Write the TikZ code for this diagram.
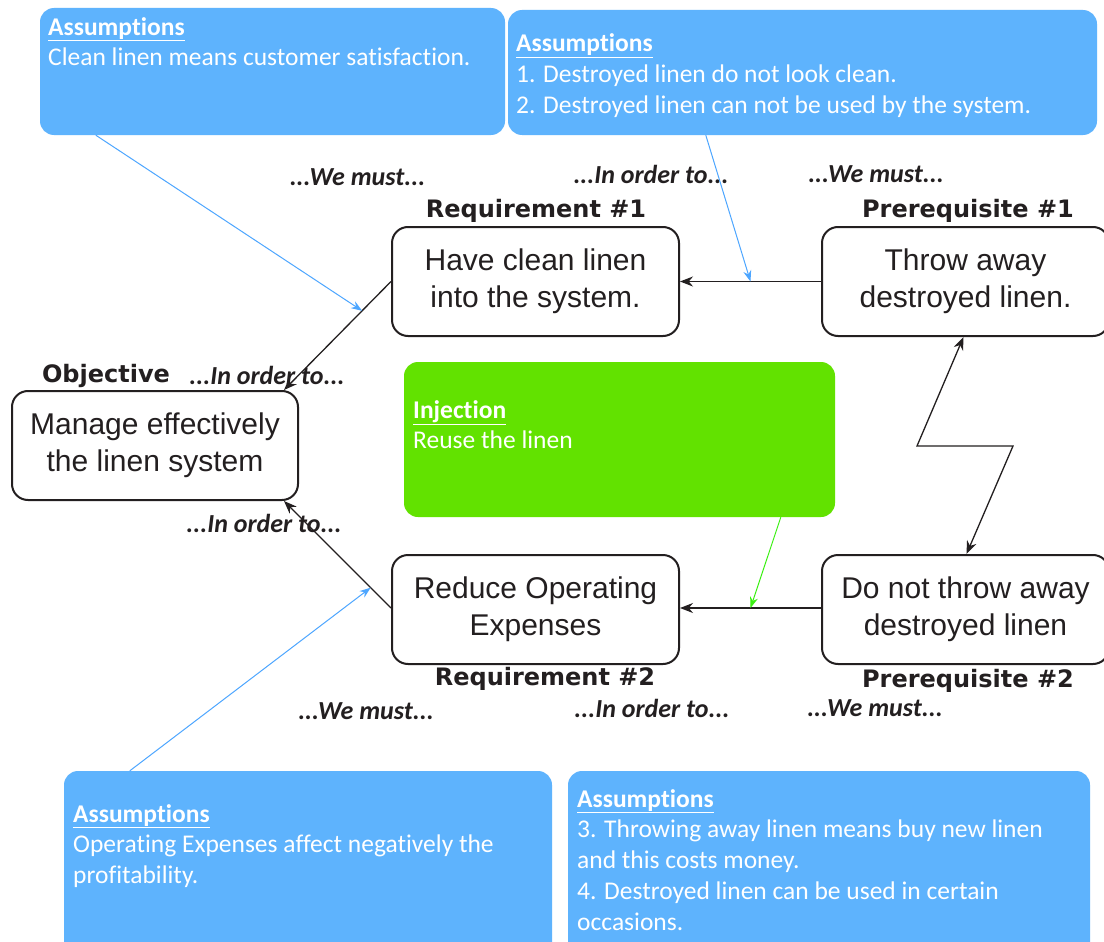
\documentclass[tikz,border=0pt]{standalone}
\usepackage{fontspec}
\setmainfont{Liberation Sans}
\newfontfamily\calib[Ligatures=NoCommon]{Carlito}
\newfontfamily\ttlfont{DejaVu Sans}
\usetikzlibrary{arrows.meta,calc}
\definecolor{asblue}{RGB}{94,179,253}
\definecolor{injgreen}{RGB}{98,226,0}
\definecolor{lnblue}{RGB}{77,166,255}
\definecolor{lngreen}{RGB}{60,240,20}
\definecolor{ink}{RGB}{35,31,32}
\tikzset{
  assum/.style={fill=asblue, draw=none, rounded corners=14pt, inner sep=0pt},
  injbox/.style={fill=injgreen, draw=none, rounded corners=14pt, inner sep=0pt},
  atext/.style={anchor=north west, inner sep=0pt, align=left, text=white, font=\calib\fontsize{25.5}{30.8}\selectfont},
  cbox/.style={draw=ink, line width=2pt, rounded corners=16pt, fill=white, minimum width=287pt, minimum height=109pt, align=center, text=ink, font=\fontsize{30}{37}\selectfont, inner sep=0pt},
  ttl/.style={text=ink, inner sep=0pt, font=\ttlfont\bfseries\fontsize{24}{28}\selectfont},
  lbl/.style={text=ink, inner sep=0pt, font=\calib\bfseries\itshape\fontsize{26}{28}\selectfont},
  arr/.style={draw=ink, line width=1.3pt, -{Stealth[length=13pt,width=10pt]}},
  barr/.style={draw=lnblue, line width=1pt, -{Stealth[length=11pt,width=8pt]}},
  garr/.style={draw=lngreen, line width=1pt, -{Stealth[length=11pt,width=8pt]}}
}
\newcommand{\hd}{\underline{\textbf{Assumptions}}}
\begin{document}
\begin{tikzpicture}[x=1pt,y=-1pt]
\useasboundingbox (0,0) rectangle (1104,942);
\clip (0,0) rectangle (1104,942);
\fill[white] (0,0) rectangle (1104,942);
% assumption boxes
\node[assum, minimum width=465pt, minimum height=127pt] (as1) at (272.5,71.5) {};
\node[atext] (as1t) at (48,17) {\hd\\Clean linen means customer satisfaction.};
\node[assum, minimum width=589pt, minimum height=125pt] (as2) at (802.5,72.5) {};
\node[atext] (as2t) at (516,33.5) {\hd\\1. Destroyed linen do not look clean.\\2. Destroyed linen can not be used by the system.};
\node[assum, minimum width=488pt, minimum height=190pt] (as3) at (308,866) {};
\node[atext] (as3t) at (73,804) {\hd\\Operating Expenses affect negatively the\\profitability.};
\node[assum, minimum width=522pt, minimum height=190pt] (as4) at (829,866) {};
\node[atext] (as4t) at (577,789) {\hd\\3. Throwing away linen means buy new linen\\and this costs money.\\4. Destroyed linen can be used in certain\\occasions.};
% injection
\node[injbox, minimum width=431pt, minimum height=155pt] (inj) at (619.5,439.5) {};
\node[atext] (injt) at (413,400) {\underline{\textbf{Injection}}\\Reuse the linen};
% main boxes
\node[cbox, minimum width=286pt] (obj) at (155,445.5) {Manage effectively\\the linen system};
\node[cbox] (r1) at (535.5,281.5) {Have clean linen\\into the system.};
\node[cbox] (r2) at (535.5,609.5) {Reduce Operating\\Expenses};
\node[cbox] (p1) at (965.5,281.5) {Throw away\\destroyed linen.};
\node[cbox] (p2) at (965.5,609.5) {Do not throw away\\destroyed linen};
% titles
\node[ttl] (tobj) at (106,376) {Objective};
\node[ttl] (tr1) at (536,211) {Requirement \#1};
\node[ttl] (tr2) at (545,679) {Requirement \#2};
\node[ttl] (tp1) at (968,211) {Prerequisite \#1};
\node[ttl] (tp2) at (968,681) {Prerequisite \#2};
% labels
\node[lbl] (l1) at (357.5,177) {...We must...};
\node[lbl] (l2) at (651,174) {...In order to...};
\node[lbl] (l3) at (876,174) {...We must...};
\node[lbl] (l4) at (267,375) {...In order to...};
\node[lbl] (l5) at (264,523) {...In order to...};
\node[lbl] (l6) at (366,711) {...We must...};
\node[lbl] (l7) at (652,708) {...In order to...};
\node[lbl] (l8) at (875,708) {...We must...};
% connector anchor coordinates
\coordinate (objtop) at ($(obj.north east)+(-15,0)$);
\coordinate (objbot) at ($(obj.south east)+(-15,0)$);
\coordinate (r2w) at ($(r2.west)+(0,-1.5)$);
\coordinate (r2e) at ($(r2.east)+(0,-1.5)$);
\coordinate (p2w) at ($(p2.west)+(0,-1.5)$);
% main connectors
\draw[arr] (r1.west) -- (objtop);
\draw[arr] (r2w) -- (objbot);
\draw[arr] (p1.west) -- (r1.east);
\draw[arr] (p2w) -- (r2e);
\draw[draw=ink, line width=1.3pt, {Stealth[length=13pt,width=10pt]}-{Stealth[length=13pt,width=10pt]}]
  ($(p1.south)+(-2,0)$) -- (917,446) -- (1013,446) -- ($(p2.north)+(1,0)$);
% assumption / injection arrows
\coordinate (a1) at ($(r1.west)!0.27!(objtop)$);
\coordinate (a2) at ($(p1.west)!0.5!(r1.east)$);
\coordinate (a3) at ($(r2w)!0.19!(objbot)$);
\coordinate (a4) at ($(p2w)!0.5!(r2e)$);
\draw[barr] ($(as1.south west)+(56,0)$) -- (a1);
\draw[barr] ($(as2.south west)+(198,0)$) -- (a2);
\draw[barr] ($(as3.north west)+(66,0)$) -- (a3);
\draw[garr] ($(inj.south west)+(377,0)$) -- (a4);
\end{tikzpicture}
\end{document}
